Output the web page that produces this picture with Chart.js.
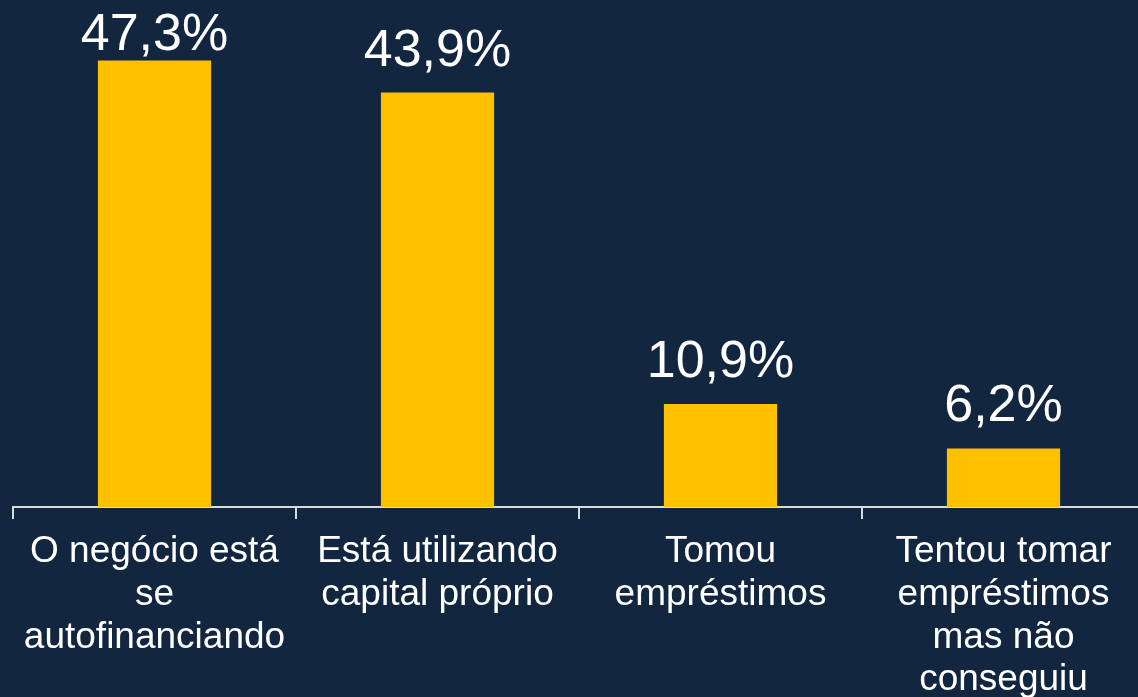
<!DOCTYPE html>
<html>
<head>
<meta charset="utf-8">
<script src="https://cdn.jsdelivr.net/npm/chart.js@4/dist/chart.umd.min.js"></script>
<style>
    html, body { margin: 0; padding: 0; background: #12263F; overflow: hidden; }
    #wrap { width: 1150px; height: 697px; }
</style>
</head>
<body>
<div id="wrap"><canvas id="barChart"></canvas></div>
<script>
// DONNEES
const categories = [
    ["O negócio está", "se", "autofinanciando"],
    ["Está utilizando", "capital próprio"],
    ["Tomou", "empréstimos"],
    ["Tentou tomar", "empréstimos", "mas não", "conseguiu"]
];
const values = [47.3, 43.9, 10.9, 6.2];

const FONT = "'Liberation Sans', Arial, sans-serif";

// ETIQUETTES AU-DESSUS DES BARRES
const valueLabels = {
    id: "valueLabels",
    afterDatasetsDraw(chart) {
        const ctx = chart.ctx;
        const meta = chart.getDatasetMeta(0);
        ctx.save();
        ctx.fillStyle = "#FFFFFF";
        ctx.font = "52px " + FONT;
        ctx.textAlign = "center";
        ctx.textBaseline = "alphabetic";
        meta.data.forEach((bar, i) => {
            const txt = values[i].toFixed(1).replace(".", ",") + "%";
            // garde l'etiquette dans le cadre en haut
            ctx.fillText(txt, bar.x, Math.max(bar.y - 27, 50));
        });
        ctx.restore();
    }
};

const graphBar = new Chart(document.querySelector("#barChart").getContext("2d"), {
    type: "bar",
    data: {
        labels: categories,
        datasets: [
            {
                data: values,
                backgroundColor: "#FFC000",
                borderWidth: 0,
                barPercentage: 0.4,
                categoryPercentage: 1.0
            }
        ]
    },
    options: {
        responsive: true,
        maintainAspectRatio: false,
        animation: false,
        layout: { padding: { left: 13, right: 5, top: 35, bottom: 0 } },
        plugins: {
            legend: { display: false },
            tooltip: { enabled: false }
        },
        scales: {
            x: {
                grid: {
                    offset: true,
                    drawOnChartArea: false,
                    drawTicks: true,
                    tickLength: 12,
                    color: "#D9D9D9",
                    lineWidth: 2
                },
                border: { color: "#D9D9D9", width: 2 },
                ticks: {
                    color: "#FFFFFF",
                    padding: 12,
                    maxRotation: 0,
                    autoSkip: false,
                    font: { family: FONT, size: 37, lineHeight: 1.15 }
                },
                afterFit(scale) { scale.height = 190; }
            },
            y: {
                display: false,
                min: 0,
                max: 50
            }
        }
    },
    plugins: [valueLabels]
});
</script>
</body>
</html>
